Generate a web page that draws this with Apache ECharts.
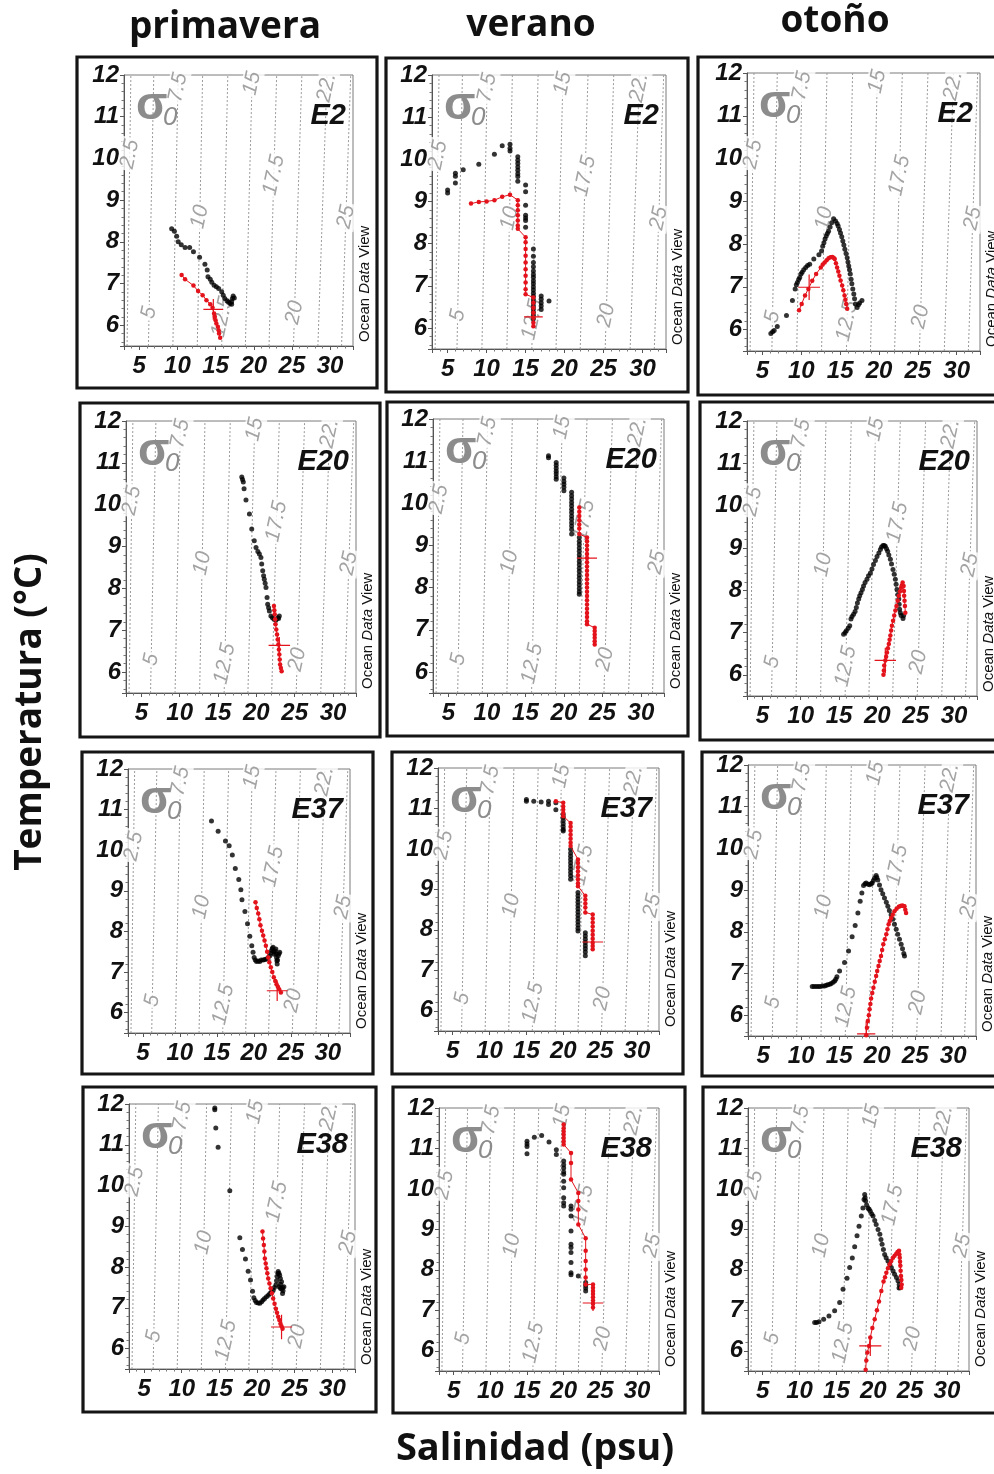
<!DOCTYPE html>
<html>
<head>
<meta charset="utf-8">
<script src="https://cdn.jsdelivr.net/npm/echarts@6/dist/echarts.min.js"></script>
<style>
  html, body { margin: 0; padding: 0; background: #ffffff; }
  #chart { width: 994px; height: 1474px; }
</style>
</head>
<body>
<div id="chart"></div>
<script>
// Column headings (seasons) and row stations
const seasons = ['primavera', 'verano', 'otoño'];
const stations = ['E2', 'E20', 'E37', 'E38'];

// Isopycnals (sigma-0): salinity where each line meets T = 5.5 and T = 12 °C
const sigmaLabels = ['2.5', '5', '7.5', '10', '12.5', '15', '17.5', '20', '22.', '25'];
const isoSalLow = [3.4, 6.2, 9.4, 12.6, 15.8, 18.9, 22.0, 25.2, 28.4, 31.5];
const isoSalHigh = [3.9, 6.9, 10.1, 13.3, 16.6, 19.8, 23.0, 26.3, 29.6, 32.7];
const sigmaLabelT = [10.1, 6.3, 11.7, 8.6, 6.2, 11.8, 9.6, 6.3, 11.7, 8.6];

// ---- E2 ----
const primaveraE2Black = [[9.24,8.31],[9.6,8.25],[9.9,8.13],[10.1,8.0],[10.5,7.93],[11.0,7.86],[11.6,7.86],[12.1,7.76],[12.9,7.63],[13.6,7.46],[13.9,7.32],[14.0,7.16],[14.3,7.1],[14.5,7.03],[14.8,6.96],[15.1,6.92],[15.4,6.88],[15.8,6.8],[16.0,6.72],[16.2,6.64],[16.5,6.58],[16.7,6.55],[16.9,6.52],[17.1,6.56],[17.2,6.64],[17.3,6.7],[17.45,6.65],[17.1,6.5]];
const primaveraE2Red = [[10.55,7.2],[11.0,7.1],[12.1,6.95],[12.7,6.82],[13.3,6.72],[13.8,6.6],[14.3,6.5],[14.6,6.42],[14.8,6.28],[14.9,6.2],[15.0,6.12],[15.1,6.04],[15.3,5.96],[15.4,5.88],[15.45,5.8],[15.6,5.7]];
const primaveraE2Cross = [14.7, 6.38, 1.3, 0.25];

const veranoE2Black = [[5,9.27],[5,9.2],[6,9.67],[6,9.6],[6,9.44],[7,9.75],[9,9.88],[11,10.12],[12,10.32],[13,10.36],[13,10.26],[13,10.2],[14,10.06],[14,9.98],[14,9.9],[14,9.82],[14,9.74],[14,9.66],[14,9.59],[14,9.48],[15,9.39],[15,9.23],[15,8.91],[15,8.67],[15,8.61],[15,8.55],[15,8.39],[16,7.87],[16,7.7],[16,7.55],[16,7.45],[16,7.35],[16,7.27],[16,7.2],[16,7.12],[16,7.05],[16,6.97],[16,6.9],[16,6.82],[16,6.75],[16,6.67],[16,6.6],[16,6.52],[16,6.45],[16,6.37],[16,6.3],[16,6.22],[17,6.76],[17,6.68],[17,6.6],[17,6.52],[17,6.44],[18,6.64]];
const veranoE2Red = [[8,8.95],[9,8.99],[10,9.0],[11,9.03],[12,9.11],[13,9.16],[14,9.03],[14,8.91],[14,8.79],[14,8.67],[14,8.55],[14,8.43],[14,8.35],[15,8.15],[15,8.03],[15,7.87],[15,7.71],[15,7.55],[15,7.39],[15,7.24],[15,7.08],[15,6.92],[15,6.8],[16,6.72],[16,6.6],[16,6.48],[16,6.36],[16,6.24],[16,6.12],[16,6.04]];
const veranoE2Cross = [16, 6.26, 1.2, 0.25];

const otonoE2Black = [[6.07,5.91],[6.3,5.95],[6.5,5.98],[6.9,6.07],[8.08,6.33],[8.85,6.68],[9.2,6.95],[9.35,7.05],[9.49,7.1],[9.65,7.17],[9.79,7.22],[9.95,7.3],[10.1,7.34],[10.3,7.4],[10.56,7.45],[10.8,7.5],[11.07,7.53],[11.6,7.65],[12.26,7.75],[12.6,7.84],[12.75,7.95],[12.9,8.03],[13.05,8.12],[13.2,8.19],[13.35,8.25],[13.5,8.3],[13.7,8.4],[13.9,8.5],[14.15,8.59],[14.4,8.54],[14.6,8.48],[14.74,8.42],[14.9,8.34],[15.04,8.26],[15.2,8.17],[15.34,8.07],[15.47,7.98],[15.6,7.88],[15.75,7.78],[15.9,7.68],[16.0,7.58],[16.1,7.49],[16.2,7.4],[16.3,7.3],[16.4,7.18],[16.5,7.07],[16.62,6.95],[16.75,6.83],[16.85,6.72],[16.96,6.6],[17.18,6.52],[17.35,6.58],[17.5,6.62],[17.8,6.68]];
const otonoE2Red = [[9.7,6.45],[10.04,6.6],[10.47,6.8],[10.9,6.95],[11.4,7.14],[11.9,7.3],[12.5,7.45],[12.75,7.52],[13.0,7.57],[13.25,7.62],[13.5,7.67],[13.75,7.69],[13.97,7.7],[14.15,7.68],[14.3,7.65],[14.45,7.55],[14.6,7.45],[14.75,7.36],[14.9,7.26],[15.05,7.15],[15.25,7.03],[15.4,6.92],[15.56,6.8],[15.67,6.7],[15.77,6.6],[15.9,6.49]];
const otonoE2Cross = [11.0, 6.99, 1.4, 0.3];

// ---- E20 ----
const primaveraE20Black = [[18.1,10.66],[18.2,10.6],[18.3,10.54],[18.4,10.38],[18.65,10.11],[19.1,9.78],[19.4,9.42],[19.73,9.14],[19.96,8.98],[20.2,8.88],[20.4,8.82],[20.6,8.74],[20.7,8.58],[20.83,8.42],[20.95,8.3],[21.04,8.22],[21.15,8.12],[21.26,8.02],[21.4,7.78],[21.48,7.62],[21.6,7.54],[21.7,7.46],[21.9,7.34],[22.1,7.3],[22.3,7.26],[22.55,7.24],[22.8,7.3],[23.0,7.34],[22.9,7.28]];
const primaveraE20Red = [[22.3,7.58],[22.35,7.48],[22.4,7.38],[22.45,7.26],[22.5,7.14],[22.6,7.02],[22.7,6.9],[22.78,6.78],[22.87,6.66],[22.94,6.54],[23.0,6.42],[23.05,6.3],[23.1,6.18],[23.2,6.1],[23.3,6.02]];
const primaveraE20Cross = [23.0, 6.64, 1.4, 0.2];

const veranoE20Black = [[18,11.13],[18,11.08],[19,10.97],[19,10.9],[19,10.83],[19,10.76],[19,10.7],[19,10.63],[19,10.57],[20,10.6],[20,10.52],[20,10.45],[20,10.38],[20,10.3],[21,10.26],[21,10.18],[21,10.1],[21,10.02],[21,9.94],[21,9.86],[21,9.78],[21,9.7],[21,9.62],[21,9.54],[21,9.46],[21,9.38],[21,9.27],[22,9.19],[22,9.1],[22,9.02],[22,8.94],[22,8.86],[22,8.78],[22,8.7],[22,8.62],[22,8.54],[22,8.46],[22,8.38],[22,8.3],[22,8.22],[22,8.14],[22,8.06],[22,7.98],[22,7.9],[22,7.84]];
const veranoE20Red = [[22,9.9],[22,9.8],[22,9.7],[22,9.6],[22,9.5],[22,9.4],[22,9.27],[23,9.19],[23,9.1],[23,9.0],[23,8.9],[23,8.8],[23,8.7],[23,8.6],[23,8.5],[23,8.4],[23,8.3],[23,8.2],[23,8.1],[23,8.0],[23,7.9],[23,7.8],[23,7.7],[23,7.6],[23,7.5],[23,7.4],[23,7.3],[23,7.2],[23,7.13],[24,7.05],[24,6.97],[24,6.89],[24,6.81],[24,6.73],[24,6.65]];
const veranoE20Cross = [23, 8.7, 1.3, 0.3];

const otonoE20Black = [[15.6,6.96],[15.8,7.0],[15.96,7.04],[16.2,7.1],[16.4,7.16],[16.56,7.32],[16.7,7.38],[16.9,7.43],[17.1,7.5],[17.26,7.59],[17.4,7.7],[17.57,7.79],[17.7,7.87],[17.87,7.94],[18.05,8.02],[18.2,8.1],[18.4,8.18],[18.65,8.26],[18.85,8.34],[19.1,8.41],[19.3,8.5],[19.5,8.61],[19.75,8.7],[19.96,8.8],[20.2,8.88],[20.4,8.96],[20.55,9.02],[20.74,9.06],[20.9,9.06],[21.04,9.04],[21.2,8.98],[21.35,8.92],[21.5,8.83],[21.7,8.73],[21.85,8.62],[22.04,8.49],[22.2,8.38],[22.35,8.26],[22.45,8.14],[22.56,8.02],[22.68,7.9],[22.8,7.79],[22.85,7.67],[22.9,7.55],[23.0,7.47],[23.1,7.4],[23.35,7.33],[23.43,7.4]];
const otonoE20Red = [[20.8,6.0],[20.85,6.1],[20.9,6.22],[21.04,6.34],[21.15,6.43],[21.26,6.53],[21.38,6.63],[21.5,6.73],[21.6,6.83],[21.7,6.93],[21.8,7.05],[21.9,7.16],[22.05,7.28],[22.2,7.4],[22.35,7.52],[22.5,7.63],[22.65,7.75],[22.8,7.87],[22.95,7.97],[23.1,8.06],[23.2,8.12],[23.3,8.18],[23.43,8.1],[23.47,7.98],[23.5,7.87],[23.55,7.75],[23.6,7.63],[23.65,7.47]];
const otonoE20Cross = [21.04, 6.34, 1.4, 0.3];

// ---- E37 ----
const primaveraE37Black = [[14.28,10.72],[15.18,10.47],[16.17,10.23],[16.67,10.11],[17.1,9.88],[17.5,9.55],[17.97,9.28],[18.25,9.03],[18.4,8.78],[18.8,8.49],[19.15,8.19],[19.46,7.88],[19.73,7.65],[19.9,7.49],[20.05,7.36],[20.2,7.3],[20.37,7.26],[20.6,7.27],[20.8,7.26],[21.0,7.3],[21.27,7.3],[21.5,7.31],[21.72,7.32],[21.95,7.36],[22.17,7.4],[22.3,7.47],[22.4,7.53],[22.5,7.58],[22.6,7.61],[22.7,7.5],[22.76,7.44],[22.88,7.52],[22.98,7.57],[23.02,7.45],[23.07,7.36],[23.12,7.28],[23.16,7.2],[23.2,7.3],[23.3,7.4],[23.4,7.45],[23.5,7.49]];
const primaveraE37Red = [[20.23,8.72],[20.4,8.58],[20.6,8.44],[20.75,8.3],[20.9,8.15],[21.1,8.02],[21.27,7.9],[21.45,7.78],[21.63,7.65],[21.8,7.5],[21.95,7.36],[22.1,7.24],[22.3,7.12],[22.5,7.0],[22.7,6.87],[22.9,6.78],[23.07,6.7],[23.25,6.64],[23.43,6.58],[23.66,6.5]];
const primaveraE37Cross = [23.16, 6.54, 1.4, 0.25];

const veranoE37Black = [[15,11.22],[15,11.18],[16,11.18],[17,11.16],[18,11.18],[18,11.1],[19,11.14],[19,10.97],[20,10.85],[20,10.78],[20,10.7],[20,10.62],[20,10.55],[20,10.48],[20,10.44],[21,9.99],[21,9.9],[21,9.82],[21,9.74],[21,9.66],[21,9.58],[21,9.5],[21,9.42],[21,9.34],[21,9.25],[22,8.92],[22,8.84],[22,8.76],[22,8.68],[22,8.6],[22,8.52],[22,8.44],[22,8.36],[22,8.28],[22,8.2],[22,8.12],[22,8.04],[22,7.97],[23,7.93],[23,7.85],[23,7.77],[23,7.69],[23,7.61],[23,7.53],[23,7.45],[23,7.36]];
const veranoE37Red = [[19,11.18],[20,11.14],[20,11.05],[20,10.97],[20,10.89],[20,10.81],[21,10.64],[21,10.55],[21,10.45],[21,10.35],[21,10.25],[21,10.15],[21,10.07],[22,9.74],[22,9.65],[22,9.55],[22,9.45],[22,9.35],[22,9.25],[22,9.15],[22,9.08],[23,8.84],[23,8.75],[23,8.65],[23,8.55],[23,8.43],[24,8.38],[24,8.28],[24,8.18],[24,8.08],[24,7.98],[24,7.88],[24,7.78],[24,7.68],[24,7.6],[24,7.52]];
const veranoE37Cross = [24, 7.7, 1.4, 0.2];

const otonoE37Black = [[11.45,6.69],[11.7,6.69],[11.98,6.69],[12.25,6.69],[12.5,6.69],[12.8,6.7],[13.07,6.7],[13.3,6.72],[13.5,6.73],[13.75,6.74],[13.95,6.76],[14.2,6.79],[14.4,6.82],[14.55,6.86],[14.7,6.92],[15.05,7.06],[15.7,7.26],[16.23,7.54],[16.7,7.88],[17.1,8.15],[17.46,8.45],[17.76,8.73],[17.98,8.93],[18.2,9.11],[18.4,9.15],[18.55,9.17],[18.8,9.14],[19.0,9.13],[19.2,9.15],[19.34,9.17],[19.5,9.23],[19.65,9.29],[19.86,9.35],[19.95,9.3],[20.08,9.24],[20.3,9.12],[20.5,9.01],[20.73,8.91],[20.96,8.81],[21.2,8.71],[21.4,8.61],[21.6,8.51],[21.83,8.41],[22.05,8.3],[22.27,8.18],[22.5,8.06],[22.7,7.94],[22.93,7.82],[23.15,7.7],[23.33,7.59],[23.5,7.48],[23.59,7.42]];
const otonoE37Red = [[18.55,5.52],[18.65,5.7],[18.77,5.86],[18.9,6.0],[19.0,6.14],[19.1,6.27],[19.2,6.4],[19.35,6.53],[19.5,6.66],[19.68,6.8],[19.86,6.94],[20.0,7.06],[20.17,7.18],[20.33,7.3],[20.5,7.42],[20.65,7.56],[20.8,7.7],[21.0,7.82],[21.2,7.94],[21.35,8.06],[21.5,8.18],[21.65,8.26],[21.83,8.33],[22.05,8.41],[22.27,8.49],[22.55,8.55],[22.84,8.6],[23.05,8.62],[23.28,8.63],[23.45,8.62],[23.59,8.61],[23.7,8.53],[23.8,8.45]];
const otonoE37Cross = [18.55, 5.55, 1.2, 0.3];

// ---- E38 ----
const primaveraE38Black = [[14.39,11.9],[14.39,11.86],[14.52,11.41],[14.83,10.94],[16.38,9.87],[17.71,8.72],[18.06,8.43],[18.46,8.2],[18.82,7.9],[19.13,7.68],[19.4,7.41],[19.57,7.25],[19.75,7.18],[19.92,7.13],[20.15,7.12],[20.37,7.11],[20.6,7.15],[20.8,7.19],[21.0,7.23],[21.25,7.27],[21.5,7.31],[21.7,7.35],[21.9,7.39],[22.14,7.43],[22.3,7.5],[22.5,7.56],[22.6,7.66],[22.67,7.76],[22.75,7.84],[22.8,7.89],[22.9,7.85],[23.0,7.8],[23.1,7.72],[23.25,7.64],[23.1,7.58],[22.94,7.52],[23.1,7.48],[23.25,7.46],[23.4,7.5],[23.56,7.52],[23.45,7.42],[23.38,7.35]];
const primaveraE38Red = [[20.72,8.87],[20.8,8.7],[20.9,8.54],[20.97,8.38],[21.03,8.21],[21.15,8.09],[21.25,7.97],[21.36,7.85],[21.48,7.72],[21.64,7.6],[21.8,7.48],[21.97,7.36],[22.14,7.23],[22.32,7.1],[22.5,6.98],[22.65,6.88],[22.8,6.78],[22.95,6.7],[23.1,6.61],[23.25,6.55],[23.38,6.49]];
const primaveraE38Cross = [23.25, 6.53, 1.4, 0.3];

const veranoE38Black = [[15,11.18],[15,11.11],[15,11.05],[15,10.87],[16,11.28],[17,11.32],[18,11.16],[19,10.97],[19,10.85],[20,10.69],[20,10.6],[20,10.52],[20,10.42],[20,10.36],[20,10.19],[20,10.03],[20,9.78],[20,9.66],[20,9.58],[21,9.58],[21,9.5],[21,9.33],[21,8.96],[21,8.63],[21,8.55],[21,8.43],[21,8.18],[21,7.93],[21,7.88],[22,7.85],[23,7.69],[23,7.62],[23,7.55],[23,7.48]];
const veranoE38Red = [[20,11.59],[20,11.5],[20,11.42],[20,11.34],[20,11.26],[20,11.18],[20,11.1],[21,10.89],[21,10.64],[21,10.23],[22,9.9],[22,9.7],[22,9.49],[22,9.12],[23,8.78],[23,8.47],[23,8.22],[23,8.01],[23,7.81],[23,7.64],[24,7.64],[24,7.56],[24,7.48],[24,7.4],[24,7.32],[24,7.24],[24,7.16],[24,7.07]];
const veranoE38Cross = [24, 7.18, 1.4, 0.2];

const otonoE38Black = [[12.05,6.7],[12.3,6.7],[12.64,6.72],[13.27,6.78],[13.99,6.86],[14.76,6.99],[15.44,7.19],[15.9,7.52],[16.44,7.79],[16.8,8.06],[17.16,8.29],[17.48,8.57],[17.8,8.84],[18.07,9.08],[18.38,9.33],[18.6,9.53],[18.75,9.74],[18.84,9.86],[18.9,9.78],[18.97,9.7],[19.1,9.6],[19.3,9.52],[19.45,9.5],[19.6,9.45],[19.8,9.38],[19.97,9.33],[20.2,9.22],[20.4,9.12],[20.65,9.0],[20.9,8.88],[21.05,8.75],[21.2,8.63],[21.38,8.5],[21.55,8.38],[21.75,8.3],[22.0,8.22],[22.25,8.14],[22.46,8.06],[22.7,7.97],[22.9,7.89],[23.15,7.81],[23.36,7.73],[23.52,7.64],[23.68,7.56],[23.5,7.55]];
const otonoE38Red = [[18.97,5.53],[19.06,5.76],[19.2,5.96],[19.43,6.12],[19.6,6.33],[19.88,6.56],[20.2,6.78],[20.5,7.0],[20.78,7.22],[21.1,7.48],[21.4,7.71],[21.6,7.82],[21.78,7.93],[22.0,8.04],[22.23,8.14],[22.45,8.22],[22.68,8.3],[22.9,8.35],[23.13,8.4],[23.3,8.44],[23.5,8.47],[23.55,8.38],[23.6,8.3],[23.64,8.2],[23.68,8.1],[23.72,7.98],[23.77,7.85],[23.82,7.75],[23.86,7.64],[23.8,7.56]];
const otonoE38Cross = [19.6, 6.12, 1.5, 0.25];

// Panels in reading order: one row per station, one column per season
const panels = [
  { black: primaveraE2Black, red: primaveraE2Red, cross: primaveraE2Cross },
  { black: veranoE2Black, red: veranoE2Red, cross: veranoE2Cross },
  { black: otonoE2Black, red: otonoE2Red, cross: otonoE2Cross },
  { black: primaveraE20Black, red: primaveraE20Red, cross: primaveraE20Cross },
  { black: veranoE20Black, red: veranoE20Red, cross: veranoE20Cross },
  { black: otonoE20Black, red: otonoE20Red, cross: otonoE20Cross },
  { black: primaveraE37Black, red: primaveraE37Red, cross: primaveraE37Cross },
  { black: veranoE37Black, red: veranoE37Red, cross: veranoE37Cross },
  { black: otonoE37Black, red: otonoE37Red, cross: otonoE37Cross },
  { black: primaveraE38Black, red: primaveraE38Red, cross: primaveraE38Cross },
  { black: veranoE38Black, red: veranoE38Red, cross: veranoE38Cross },
  { black: otonoE38Black, red: otonoE38Red, cross: otonoE38Cross }
];

// Plot rectangles [left, top, width, height] and surrounding frames
const plotRects = [
  [124, 75, 229, 271], [432, 75, 234, 274], [747, 73, 233, 278],
  [126, 421, 230, 272], [433, 419, 231, 274], [747, 421, 230, 275],
  [128, 769, 222, 264], [438, 768, 221, 263], [748, 765, 228, 271],
  [129, 1104, 226, 265], [439, 1108, 220, 263], [748, 1108, 221, 263]
];
const frameRects = [
  [77, 57, 300, 331], [386, 58, 302, 334], [698, 57, 310, 338],
  [80, 403, 300, 334], [387, 402, 301, 334], [700, 402, 310, 338],
  [82, 752, 291, 322], [392, 752, 291, 322], [702, 752, 310, 324],
  [83, 1087, 293, 325], [393, 1087, 292, 326], [703, 1087, 310, 326]
];

const FONT = '"Liberation Sans", Arial, sans-serif';
const GREY = '#8c8c8c';
const RED = '#e3121b';

const chart = echarts.init(document.getElementById('chart'), null, { renderer: 'canvas' });

const grid = [], xAxis = [], yAxis = [], series = [], graphic = [];

panels.forEach((p, i) => {
  const [l, t, w, h] = plotRects[i];
  grid.push({ left: l, top: t, width: w, height: h, show: true, borderColor: '#7a7a7a', borderWidth: 1,
              backgroundColor: 'transparent', containLabel: false, outerBoundsMode: 'none' });
  const axisFont = { fontFamily: FONT, fontWeight: 'bold', fontStyle: 'italic', fontSize: 24, color: '#111' };
  xAxis.push({
    type: 'value', gridIndex: i, min: 3, max: 33, splitNumber: 6,
    axisLine: { show: true, lineStyle: { color: '#555', width: 1 } },
    axisTick: { show: true, length: 4, lineStyle: { color: '#555' } },
    minorTick: { show: true, splitNumber: 5, length: 2.5, lineStyle: { color: '#777' } },
    splitLine: { show: false },
    minorSplitLine: { show: false },
    axisLabel: Object.assign({ margin: 8, hideOverlap: false,
      formatter: v => (Math.abs(v % 5) < 1e-6 ? String(v) : '') }, axisFont)
  });
  yAxis.push({
    type: 'value', gridIndex: i, min: 5.5, max: 12, splitNumber: 7,
    axisLine: { show: true, lineStyle: { color: '#555', width: 1 } },
    axisTick: { show: true, length: 4, lineStyle: { color: '#555' } },
    minorTick: { show: true, splitNumber: 5, length: 2.5, lineStyle: { color: '#777' } },
    splitLine: { show: false },
    minorSplitLine: { show: false },
    axisLabel: Object.assign({ margin: 5, hideOverlap: false,
      formatter: v => (Math.abs(v % 1) < 1e-6 ? String(v) : '') }, axisFont)
  });

  // isopycnal dashed lines, one series each
  isoSalLow.forEach((s, k) => {
    series.push({
      type: 'line', xAxisIndex: i, yAxisIndex: i, silent: true, z: 1, animation: false,
      symbol: 'none', lineStyle: { color: '#9a9a9a', width: 1, type: [2, 2] },
      data: [[s, 5.5], [isoSalHigh[k], 12]]
    });
  });
  // isopycnal labels, placed on their line
  series.push({
    type: 'scatter', xAxisIndex: i, yAxisIndex: i, silent: true, z: 2, animation: false,
    symbolSize: 0, itemStyle: { color: 'transparent' },
    label: {
      show: true, position: 'inside', rotate: 78, formatter: d => d.name,
      fontFamily: FONT, fontStyle: 'italic', fontSize: 21, color: GREY,
      backgroundColor: '#ffffff', padding: [0, 2]
    },
    data: sigmaLabels.map((txt, k) => {
      const T = sigmaLabelT[k];
      const S = isoSalLow[k] + (isoSalHigh[k] - isoSalLow[k]) * (T - 5.5) / 6.5;
      return { name: txt, value: [S, T] };
    })
  });
  // black profile points
  series.push({
    type: 'scatter', xAxisIndex: i, yAxisIndex: i, z: 4, animation: false,
    symbol: 'circle', symbolSize: 5, itemStyle: { color: '#000' },
    data: p.black
  });
  // red profile: points joined by a thin line
  series.push({
    type: 'line', xAxisIndex: i, yAxisIndex: i, z: 5, animation: false,
    symbol: 'circle', symbolSize: 4.5, showSymbol: true,
    itemStyle: { color: RED, borderWidth: 0 },
    lineStyle: { color: RED, width: 1 },
    data: p.red
  });
  // red cross (mean ± spread)
  const [cs, ct, ds, dt] = p.cross;
  series.push({
    type: 'line', xAxisIndex: i, yAxisIndex: i, silent: true, z: 6, animation: false,
    symbol: 'none', lineStyle: { color: RED, width: 1.2 },
    data: [[cs - ds, ct], [cs + ds, ct]]
  });
  series.push({
    type: 'line', xAxisIndex: i, yAxisIndex: i, silent: true, z: 6, animation: false,
    symbol: 'none', lineStyle: { color: RED, width: 1.2 },
    data: [[cs, Math.max(5.5, ct - dt)], [cs, ct + dt]]
  });

  // frame around the panel
  const [fx, fy, fw, fh] = frameRects[i];
  graphic.push({
    type: 'rect', silent: true, z: 100,
    shape: { x: fx, y: fy, width: fw, height: fh },
    style: { fill: 'none', stroke: '#151515', lineWidth: 3.2 }
  });
  // sigma-0 tag
  graphic.push({
    type: 'text', silent: true, z: 50, x: l + 12, y: t + 31,
    style: { text: 'σ', font: 'bold 46px ' + FONT, fill: GREY, textVerticalAlign: 'middle' }
  });
  graphic.push({
    type: 'text', silent: true, z: 50, x: l + 39, y: t + 43,
    style: { text: '0', font: 'italic 26px ' + FONT, fill: GREY, textVerticalAlign: 'middle' }
  });
  // station name
  graphic.push({
    type: 'text', silent: true, z: 50, x: l + w - 7, y: t + 41,
    style: { text: stations[Math.floor(i / 3)], font: 'italic bold 29px ' + FONT, fill: '#111',
             textAlign: 'right', textVerticalAlign: 'middle' }
  });
  // software credit along the right edge
  graphic.push({
    type: 'text', silent: true, z: 50, x: l + w + 12, y: t + h - 4, rotation: Math.PI / 2,
    style: {
      text: '{a|Ocean }{b|Data}{a| View}',
      rich: {
        a: { fontFamily: FONT, fontSize: 15, fill: '#111', color: '#111' },
        b: { fontFamily: FONT, fontSize: 15, fontStyle: 'italic', fill: '#111', color: '#111' }
      },
      textAlign: 'left', textVerticalAlign: 'middle'
    }
  });
});

// column headings
const headingX = [225, 531, 835];
const headingY = [27, 25, 21];
seasons.forEach((s, k) => {
  graphic.push({
    type: 'text', silent: true, z: 60, x: headingX[k], y: headingY[k],
    style: { text: s, font: 'bold 37px "Open Sans", sans-serif', fill: '#111',
             textAlign: 'center', textVerticalAlign: 'middle' }
  });
});
// axis titles
graphic.push({
  type: 'text', silent: true, z: 60, x: 30, y: 712, rotation: Math.PI / 2,
  style: { text: 'Temperatura (°C)', font: 'bold 37px "Open Sans", sans-serif', fill: '#111',
           textAlign: 'center', textVerticalAlign: 'middle' }
});
graphic.push({
  type: 'text', silent: true, z: 60, x: 535, y: 1449,
  style: { text: 'Salinidad (psu)', font: 'bold 38px "Open Sans", sans-serif', fill: '#111',
           textAlign: 'center', textVerticalAlign: 'middle' }
});

chart.setOption({
  animation: false,
  backgroundColor: '#ffffff',
  grid, xAxis, yAxis, series, graphic
});
</script>
</body>
</html>
